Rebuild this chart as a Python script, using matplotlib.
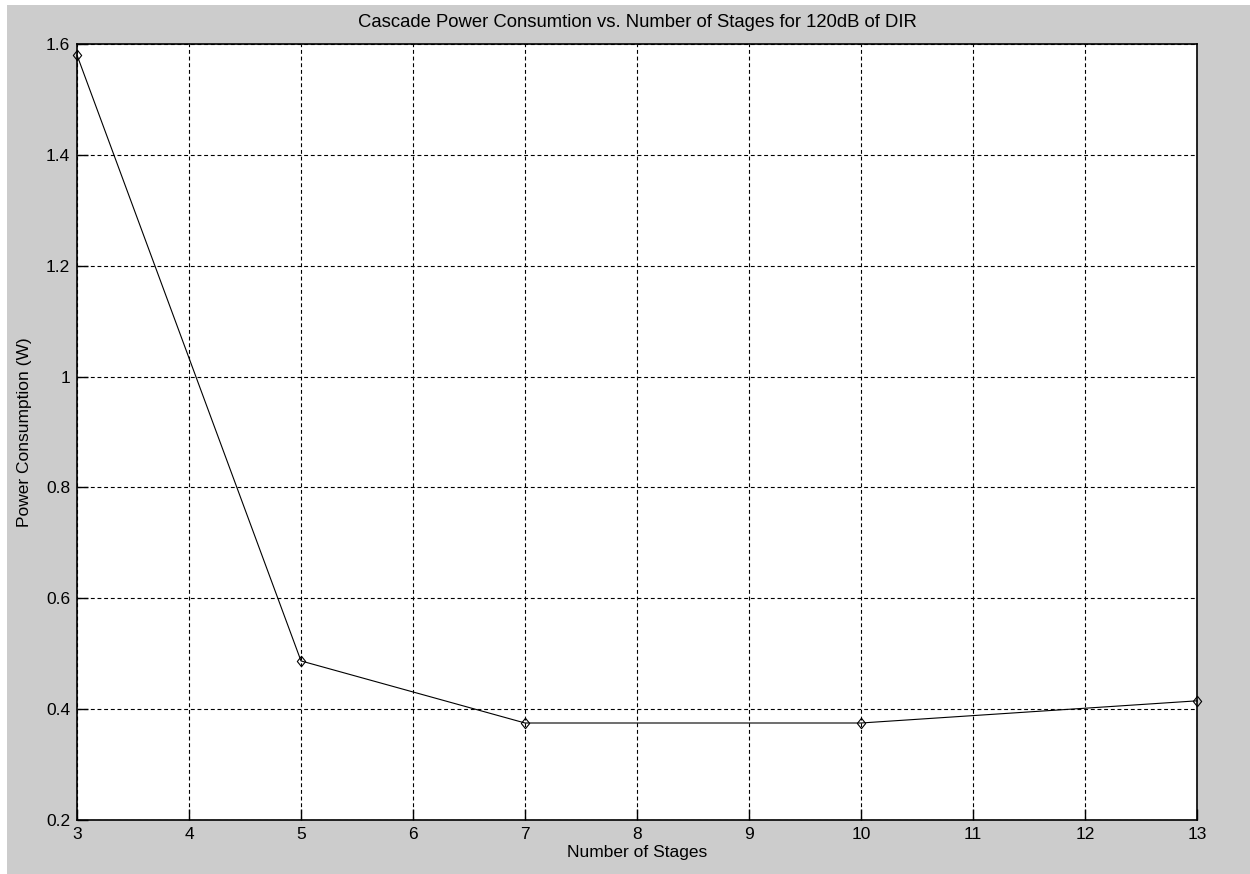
import matplotlib
matplotlib.use("Agg")
import matplotlib.pyplot as plt
from matplotlib.patches import Rectangle
from matplotlib.path import Path

stages = [3, 5, 7, 10, 13]
power = [1.58, 0.487, 0.375, 0.375, 0.415]
xticks = [3, 4, 5, 6, 7, 8, 9, 10, 11, 12, 13]
yticks = [0.2, 0.4, 0.6, 0.8, 1.0, 1.2, 1.4, 1.6]
ytick_labels = ["0.2", "0.4", "0.6", "0.8", "1", "1.2", "1.4", "1.6"]

plt.rcParams['font.family'] = ['Liberation Sans', 'DejaVu Sans']

fig = plt.figure(figsize=(12.5, 8.74), dpi=100)
fig.patch.set_facecolor('white')
fig.patches.append(Rectangle((7 / 1250, 0), 1, (874 - 5) / 874, transform=fig.transFigure,
                             facecolor='#cccccc', edgecolor='none', zorder=-10))

ax = fig.add_axes([77 / 1250, 54 / 874, 1120 / 1250, 776 / 874])
ax.set_facecolor('white')

diamond = Path([(0, 1), (0.8, 0), (0, -1), (-0.8, 0), (0, 1)],
               [Path.MOVETO, Path.LINETO, Path.LINETO, Path.LINETO, Path.CLOSEPOLY])
ax.plot(stages, power, color='black', linewidth=0.8, marker=diamond, markersize=7.5,
        markerfacecolor='none', markeredgecolor='black', markeredgewidth=0.8, clip_on=False, zorder=5)

ax.set_xlim(3, 13)
ax.set_ylim(0.2, 1.6)
ax.set_xticks(xticks)
ax.set_xticklabels([str(t) for t in xticks])
ax.set_yticks(yticks)
ax.set_yticklabels(ytick_labels)

ax.grid(True, color='black', linestyle=(0, (3.5, 2.5)), linewidth=0.8)
ax.set_axisbelow(True)
for s in ax.spines.values():
    s.set_linewidth(1.2)
    s.set_color('black')
ax.tick_params(direction='in', length=8, width=1, labelsize=12.5, pad=5, top=False, right=False)

ax.set_title("Cascade Power Consumtion vs. Number of Stages for 120dB of DIR", fontsize=13.3, pad=12)
ax.set_xlabel("Number of Stages", fontsize=12.5, labelpad=2)
ax.set_ylabel("Power Consumption (W)", fontsize=12.5, labelpad=10)

fig.savefig("out.png", dpi=100, facecolor=fig.get_facecolor())
